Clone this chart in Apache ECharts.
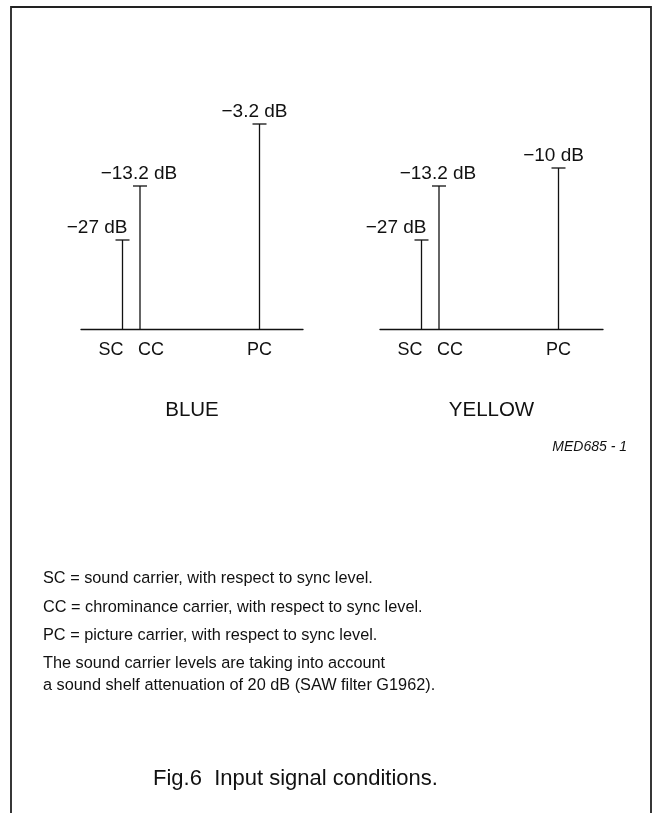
<!DOCTYPE html>
<html>
<head>
<meta charset="utf-8">
<script src="https://cdn.jsdelivr.net/npm/echarts@6/dist/echarts.min.js"></script>
<style>
html,body{margin:0;padding:0;background:#fff;}
#chart{width:653px;height:813px;}
</style>
</head>
<body>
<div id="chart"></div>
<script>
// ---- data ----
const carriers = ['SC', 'CC', 'PC'];
const carrierPos = [41.5, 59, 178.5];        // relative position along the frequency baseline
const blueLevel = [89, 143, 205];            // schematic stem heights (relative units)
const yellowLevel = [89, 143, 161];
const blueDb = [-27, -13.2, -3.2];
const yellowDb = [-27, -13.2, -10];
const panelNames = ['BLUE', 'YELLOW'];
const figCode = 'MED685 - 1';
const notes = [
  'SC = sound carrier, with respect to sync level.',
  'CC = chrominance carrier, with respect to sync level.',
  'PC = picture carrier, with respect to sync level.',
  'The sound carrier levels are taking into account',
  'a sound shelf attenuation of 20 dB (SAW filter G1962).'
];
const figTitle = 'Fig.6  Input signal conditions.';

// ---- styling ----
const FONT = '"Liberation Sans", Arial, Helvetica, sans-serif';
const INK = '#111';
const dbLabelStyle = [
  { dx: 5, align: 'right' },
  { dx: -1, align: 'center' },
  { dx: -5, align: 'center' }
];
const catLabelDx = [-11.5, 11, 0];
const noteY = [580, 609, 637, 665, 687];

function fmtDb(v) { return '\u2212' + Math.abs(v) + ' dB'; }

function makeData(levels, dbs) {
  return carriers.map((c, i) => [carrierPos[i], levels[i], dbs[i], c]);
}

function renderItem(params, api) {
  const i = params.dataIndex;
  const x = api.value(0), h = api.value(1), db = api.value(2);
  const base = api.coord([x, 0]);
  const top = api.coord([x, h]);
  const ls = dbLabelStyle[i];
  return {
    type: 'group',
    children: [
      { type: 'line', shape: { x1: base[0], y1: base[1], x2: top[0], y2: top[1] },
        style: { stroke: INK, lineWidth: 1.3 } },
      { type: 'line', shape: { x1: top[0] - 7, y1: top[1], x2: top[0] + 7, y2: top[1] },
        style: { stroke: INK, lineWidth: 1.3 } },
      { type: 'text', style: { text: fmtDb(db), x: top[0] + ls.dx, y: top[1] - 12.5,
        align: ls.align, verticalAlign: 'middle', font: '19px ' + FONT, fill: INK } },
      { type: 'text', style: { text: carriers[i], x: base[0] + catLabelDx[i], y: base[1] + 21,
        align: 'center', verticalAlign: 'middle', font: '18px ' + FONT, fill: INK } }
    ]
  };
}

function xAxisFor(gridIndex, max, name) {
  return {
    gridIndex, type: 'value', min: 0, max,
    name, nameLocation: 'middle', nameGap: 81,
    nameTextStyle: { fontFamily: FONT, fontSize: 20.5, color: INK, verticalAlign: 'middle' },
    axisLine: { show: true, onZero: false, lineStyle: { color: INK, width: 1.3 } },
    axisTick: { show: false }, axisLabel: { show: false }, splitLine: { show: false }
  };
}
function yAxisFor(gridIndex) {
  return { gridIndex, type: 'value', min: 0, max: 250, show: false, splitLine: { show: false } };
}

const chart = echarts.init(document.getElementById('chart'), null, { renderer: 'canvas' });

const noteGraphics = notes.map((t, i) => ({
  type: 'text', left: 43, top: noteY[i] - 9,
  style: { text: t, font: '16.3px ' + FONT, fill: INK }
}));

chart.setOption({
  animation: false,
  backgroundColor: '#fff',
  title: {
    text: figTitle, left: 153, top: 768, padding: 0,
    textStyle: { fontFamily: FONT, fontSize: 22, fontWeight: 'normal', color: INK }
  },
  grid: [
    { left: 81, top: 79, width: 222, height: 250 },
    { left: 380, top: 79, width: 223, height: 250 }
  ],
  xAxis: [xAxisFor(0, 222, panelNames[0]), xAxisFor(1, 223, panelNames[1])],
  yAxis: [yAxisFor(0), yAxisFor(1)],
  series: [
    { type: 'custom', name: panelNames[0], xAxisIndex: 0, yAxisIndex: 0, clip: false,
      renderItem, data: makeData(blueLevel, blueDb), encode: { x: 0, y: 1 } },
    { type: 'custom', name: panelNames[1], xAxisIndex: 1, yAxisIndex: 1, clip: false,
      renderItem, data: makeData(yellowLevel, yellowDb), encode: { x: 0, y: 1 } }
  ],
  graphic: [
    { type: 'polyline', silent: true,
      shape: { points: [[11, 813], [11, 7], [651, 7], [651, 813]] },
      style: { stroke: '#222', lineWidth: 1.8, fill: null } },
    { type: 'text', right: 653 - 627, top: 447 - 7,
      style: { text: figCode, font: 'italic 14px ' + FONT, fill: INK } }
  ].concat(noteGraphics)
});
</script>
</body>
</html>
